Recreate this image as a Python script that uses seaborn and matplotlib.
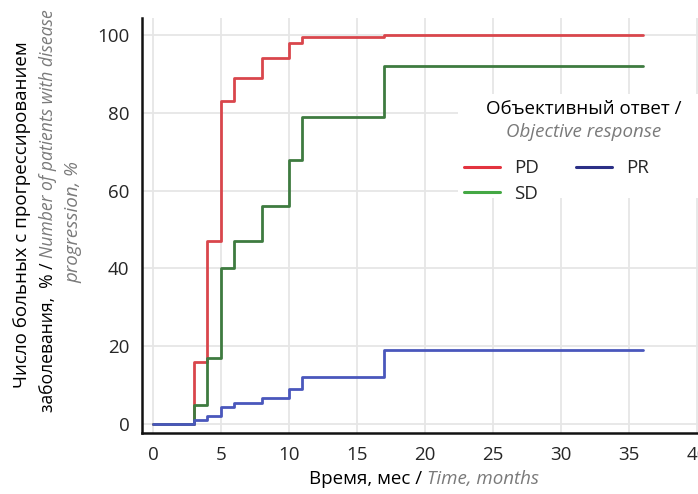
import numpy as np
import pandas as pd
import seaborn as sns
import matplotlib
matplotlib.use("Agg")
import matplotlib.pyplot as plt
from matplotlib.lines import Line2D
from matplotlib.patches import Rectangle
from matplotlib.ticker import MultipleLocator

# ---- data ----
time = [0, 3, 4, 5, 6, 8, 10, 11, 17, 36]
pd_vals = [0, 16, 47, 83, 89, 94, 98, 99.4, 100, 100]
sd_vals = [0, 5, 17, 40, 47, 56, 68, 79, 92, 92]
pr_vals = [0, 1, 2, 4.5, 5.5, 6.8, 9, 12, 19, 19]
groups = ["PD", "SD", "PR"]
x_ticks = [0, 5, 10, 15, 20, 25, 30, 35, 40]
y_ticks = [0, 20, 40, 60, 80, 100]

df = pd.DataFrame({
    "time": time * 3,
    "pct": pd_vals + sd_vals + pr_vals,
    "group": ["PD"] * len(time) + ["SD"] * len(time) + ["PR"] * len(time),
})

sns.set_style("white")
plt.rcParams["font.family"] = ["Open Sans", "DejaVu Sans"]

W, H = 698, 494
fig = plt.figure(figsize=(W / 100, H / 100), dpi=100)


def fx(x):
    return x / W


def fy(y):
    return 1 - y / H


ax = fig.add_axes([fx(142), fy(433), 559 / W, 415 / H])

line_colors = {"PD": "#d9464c", "SD": "#3e7b40", "PR": "#4a57bc"}
sns.lineplot(data=df, x="time", y="pct", hue="group", hue_order=groups,
             palette=line_colors, drawstyle="steps-post", linewidth=2.0,
             estimator=None, legend=False, ax=ax)

ax.set_xlim(-0.8, 40.3)
ax.set_ylim(-2.3, 104.4)
ax.set_xticks(x_ticks)
ax.set_yticks(y_ticks)
ax.yaxis.set_minor_locator(MultipleLocator(10))
ax.grid(True, which="major", color="#e6e6e6", linewidth=1.3)
ax.set_axisbelow(True)
ax.tick_params(axis="both", which="both", direction="out", length=4, width=1,
               color="#666666", labelsize=13.5, pad=5)
ax.tick_params(axis="y", which="minor", length=4)
for s in ["top", "right"]:
    ax.spines[s].set_visible(False)
for s in ["left", "bottom"]:
    ax.spines[s].set_color("#111111")
    ax.spines[s].set_linewidth(1.8)
ax.set_xlabel("")
ax.set_ylabel("")

# white box behind legend
ax.add_patch(Rectangle((fx(458), fy(198)), fx(698) - fx(458), fy(94) - fy(198),
                       transform=fig.transFigure, facecolor="white",
                       edgecolor="none", zorder=1.5))

leg_colors = {"PD": "#e3333f", "SD": "#44a844", "PR": "#2b2f86"}
handles = [Line2D([], [], color=leg_colors[g], lw=2.2) for g in groups]
fig.legend(handles, groups, loc="upper left",
           bbox_to_anchor=(fx(451), fy(146)), frameon=False, ncol=2,
           fontsize=13.5, handlelength=1.9, handletextpad=0.75,
           columnspacing=2.0, labelspacing=0.42, borderpad=0.2)

fs_lab = 13.5
gray = "#7a7a7a"
fig.text(fx(584), fy(109), "Объективный ответ /", ha="center", va="center",
         fontsize=fs_lab, color="black")
fig.text(fx(584), fy(132), "Objective response", ha="center", va="center",
         fontsize=fs_lab, color=gray, style="italic")

# axis labels with mixed style
fig.canvas.draw()
r = fig.canvas.get_renderer()

# x label
t1 = fig.text(0, fy(479), "Время, мес / ", ha="left", va="center",
              fontsize=fs_lab, color="black")
t2 = fig.text(0, fy(479), "Time, months", ha="left", va="center",
              fontsize=fs_lab, color=gray, style="italic")
w1 = t1.get_window_extent(r).width
w2 = t2.get_window_extent(r).width
cx = 424
x0 = cx - (w1 + w2) / 2
t1.set_x(fx(x0))
t2.set_x(fx(x0 + w1))

fs_y = 13.5
# y label line 1
fig.text(fx(22), fy(215), "Число больных с прогрессированием", rotation=90,
         ha="center", va="center", fontsize=fs_y, color="black")
# line 2 mixed
a1 = fig.text(fx(48), 0, "заболевания,  % / ", rotation=90, ha="center",
              va="bottom", fontsize=fs_y, color="black")
a2 = fig.text(fx(48), 0, "Number of patients with disease", rotation=90,
              ha="center", va="bottom", fontsize=fs_y, color=gray,
              style="italic")
h1 = a1.get_window_extent(r).height
h2 = a2.get_window_extent(r).height
total = h1 + h2
if total > 404:
    sc = 404 / total
    a1.set_fontsize(fs_y * sc)
    a2.set_fontsize(fs_y * sc)
    h1 = a1.get_window_extent(r).height
    h2 = a2.get_window_extent(r).height
cy = 211
ybot = cy + (h1 + h2) / 2
a1.set_y(fy(ybot))
a2.set_y(fy(ybot - h1))
# line 3
fig.text(fx(73), fy(222), "progression, %", rotation=90, ha="center",
         va="center", fontsize=fs_y, color=gray, style="italic")

fig.savefig("out.png", dpi=100)
